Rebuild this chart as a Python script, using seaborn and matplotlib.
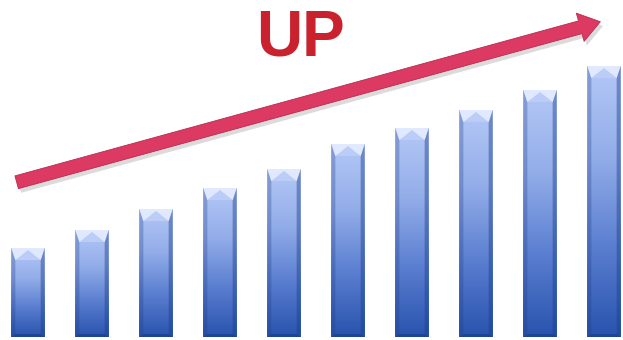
import numpy as np
import pandas as pd
import matplotlib
matplotlib.use("Agg")
import matplotlib.pyplot as plt
import seaborn as sns
from matplotlib.patches import FancyArrowPatch, Polygon
from matplotlib.colors import LinearSegmentedColormap
import matplotlib.patheffects as pe

categories = ["1", "2", "3", "4", "5", "6", "7", "8", "9", "10"]
values = [89, 107, 128, 149, 168, 193, 209, 227, 247, 271]
title_text = "UP"

sns.set_theme(style="white")
plt.rcParams['font.family'] = ['Liberation Sans', 'DejaVu Sans']

fig = plt.figure(figsize=(6.23, 3.4), dpi=100)
ax = fig.add_axes([0, 0, 1, 1])
df = pd.DataFrame({"cat": categories, "val": values})
sns.barplot(data=df, x="cat", y="val", ax=ax, width=0.52, color="#5a7fd0",
            edgecolor="none", saturation=1)
ax.set_xlim(-28 / 64, (623 - 28) / 64)
ax.set_ylim(-3, 337)
ax.axis("off")

cmap = LinearSegmentedColormap.from_list("bar", ["#b4c8f7", "#93ade9", "#5a7ed0", "#2853ad"])
grad = np.linspace(0, 1, 256).reshape(-1, 1)
dx = 4 / 64
dy = 12
for p in list(ax.patches):
    x0, y0 = p.get_x(), p.get_y()
    w, h = p.get_width(), p.get_height()
    im = ax.imshow(grad, extent=[x0, x0 + w, y0, y0 + h], aspect="auto",
                   cmap=cmap, origin="upper", zorder=2)
    im.set_clip_path(p)
    top = y0 + h
    # side bevels (darker)
    ax.add_patch(Polygon([[x0, y0], [x0 + dx, y0 + 3], [x0 + dx, top - dy], [x0, top]],
                         closed=True, facecolor="#1e3f8a", alpha=0.3, lw=0, zorder=3))
    ax.add_patch(Polygon([[x0 + w, y0], [x0 + w - dx, y0 + 3], [x0 + w - dx, top - dy], [x0 + w, top]],
                         closed=True, facecolor="#1e3f8a", alpha=0.45, lw=0, zorder=3))
    # top bevel (light)
    ax.add_patch(Polygon([[x0, top], [x0 + w, top], [x0 + w - dx, top - dy], [x0 + dx, top - dy]],
                         closed=True, facecolor="#e6edff", alpha=0.9, lw=0, zorder=3))
    ax.add_patch(Polygon([[x0 + dx, top - dy], [x0 + w - dx, top - dy], [x0 + w / 2, top - 2]],
                         closed=True, facecolor="#b9cbf6", alpha=0.95, lw=0, zorder=3))
    # bottom bevel
    ax.add_patch(Polygon([[x0, y0], [x0 + w, y0], [x0 + w - dx, y0 + 3], [x0 + dx, y0 + 3]],
                         closed=True, facecolor="#173a85", alpha=0.6, lw=0, zorder=3))

arrow = FancyArrowPatch((14 / 623, 1 - 183 / 340), (603 / 623, 1 - 21 / 340),
                        transform=fig.transFigure,
                        arrowstyle="simple,head_width=2.1,head_length=1.5,tail_width=0.95",
                        mutation_scale=10, facecolor="#dc3a62", edgecolor="#b82a4c",
                        lw=0.6, zorder=5,
                        path_effects=[pe.SimplePatchShadow(offset=(2, -3), shadow_rgbFace="#999999", alpha=0.35),
                                      pe.Normal()])
fig.patches.append(arrow)

fig.text(300 / 623, 1 - 38 / 340, title_text, ha="center", va="center",
         fontsize=46, fontweight="bold", color="#c9212e")

fig.savefig("out.png", dpi=100)
